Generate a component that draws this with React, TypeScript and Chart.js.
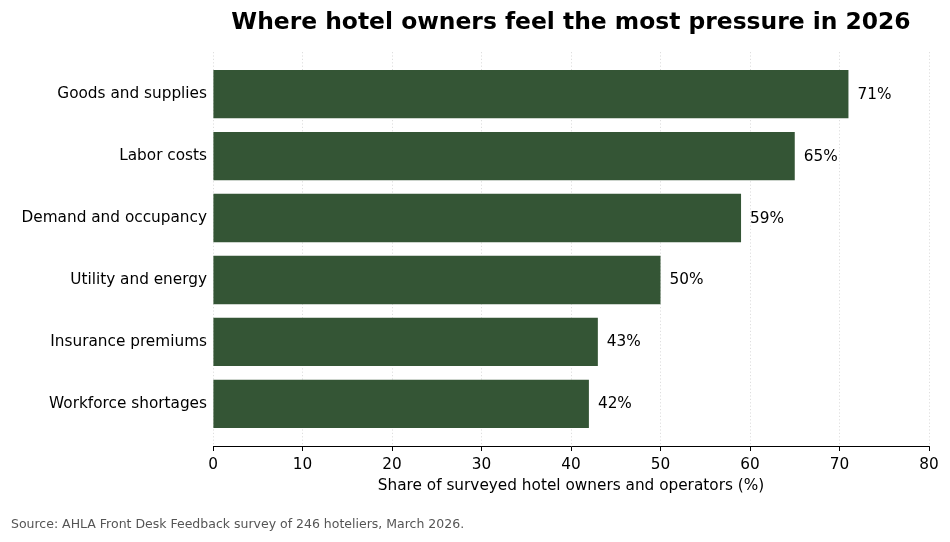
import { useEffect, useRef } from "react"
import { Chart, registerables } from "chart.js"
import type { Plugin } from "chart.js"

Chart.register(...registerables)

const categories = [
  "Goods and supplies",
  "Labor costs",
  "Demand and occupancy",
  "Utility and energy",
  "Insurance premiums",
  "Workforce shortages",
]
const shares = [71, 65, 59, 50, 43, 42]
const xTicks = [0, 10, 20, 30, 40, 50, 60, 70, 80]

const chartTitle = "Where hotel owners feel the most pressure in 2026"
const xTitle = "Share of surveyed hotel owners and operators (%)"
const sourceNote = "Source: AHLA Front Desk Feedback survey of 246 hoteliers, March 2026."

const FONT = "'DejaVu Sans', sans-serif"
const BAR = "#345535"
const TEXT_SIZE = 15.3

// title, source line and the value labels at the bar ends
const textPlugin: Plugin<"bar"> = {
  id: "textOverlay",
  afterDraw(chart) {
    const { ctx, chartArea } = chart
    ctx.save()
    ctx.fillStyle = "#000"
    ctx.font = `bold 23.4px ${FONT}`
    ctx.textAlign = "center"
    ctx.textBaseline = "alphabetic"
    ctx.fillText(chartTitle, (chartArea.left + chartArea.right) / 2, 29)

    ctx.font = `${TEXT_SIZE}px ${FONT}`
    ctx.textAlign = "left"
    ctx.textBaseline = "middle"
    const meta = chart.getDatasetMeta(0)
    meta.data.forEach((bar, i) => {
      const { x, y } = bar.getProps(["x", "y"], true)
      ctx.fillText(`${shares[i]}%`, x + 9, y + 0.5)
    })

    ctx.fillStyle = "#555"
    ctx.font = `12.5px ${FONT}`
    ctx.textBaseline = "alphabetic"
    ctx.fillText(sourceNote, 11, 528)
    ctx.restore()
  },
}

export default function App() {
  const canvasRef = useRef<HTMLCanvasElement>(null)
  const chartRef = useRef<Chart | null>(null)

  useEffect(() => {
    if (!canvasRef.current) return
    if (chartRef.current) chartRef.current.destroy()

    chartRef.current = new Chart(canvasRef.current, {
      type: "bar",
      data: {
        datasets: [
          {
            data: shares.map((v, i) => ({ x: v, y: i })),
            backgroundColor: BAR,
            borderWidth: 0,
            barPercentage: 0.78,
            categoryPercentage: 1,
          },
        ],
      },
      options: {
        indexAxis: "y",
        responsive: false,
        animation: false,
        layout: { padding: { top: 52, right: 21, left: 0, bottom: 0 } },
        plugins: {
          legend: { display: false },
          tooltip: { enabled: false },
          title: { display: false },
        },
        scales: {
          x: {
            type: "linear",
            min: 0,
            max: 80,
            z: 1,
            afterBuildTicks: (scale) => {
              scale.ticks = xTicks.map((value) => ({ value }))
            },
            afterFit: (scale) => {
              scale.height = 96
            },
            ticks: {
              color: "#000",
              font: { family: FONT, size: TEXT_SIZE },
              padding: 5,
            },
            grid: {
              color: "#d6d6d6",
              lineWidth: 0.8,
              tickColor: "#000",
              tickWidth: 1,
              tickLength: 5,
              tickBorderDash: [],
            },
            border: { display: true, color: "#000", width: 1, dash: [1.2, 2.2] },
            title: {
              display: true,
              text: xTitle,
              color: "#000",
              font: { family: FONT, size: TEXT_SIZE },
              padding: { top: 0, bottom: 47 },
            },
          },
          y: {
            type: "linear",
            reverse: true,
            offset: false,
            min: -0.68,
            max: 5.68,
            afterBuildTicks: (scale) => {
              scale.ticks = categories.map((_, i) => ({ value: i }))
            },
            afterFit: (scale) => {
              scale.width = 213
            },
            ticks: {
              color: "#000",
              font: { family: FONT, size: TEXT_SIZE },
              padding: 6,
              callback: (value) => categories[Number(value)] ?? "",
            },
            grid: { display: false, drawTicks: false },
            border: { display: false },
          },
        },
      },
      plugins: [textPlugin],
    })

    return () => {
      if (chartRef.current) {
        chartRef.current.destroy()
        chartRef.current = null
      }
    }
  }, [])

  return (
    <div style={{ position: "absolute", left: 0, top: 0, width: 950, height: 542, background: "#fff" }}>
      <canvas ref={canvasRef} width={950} height={542} />
    </div>
  )
}
